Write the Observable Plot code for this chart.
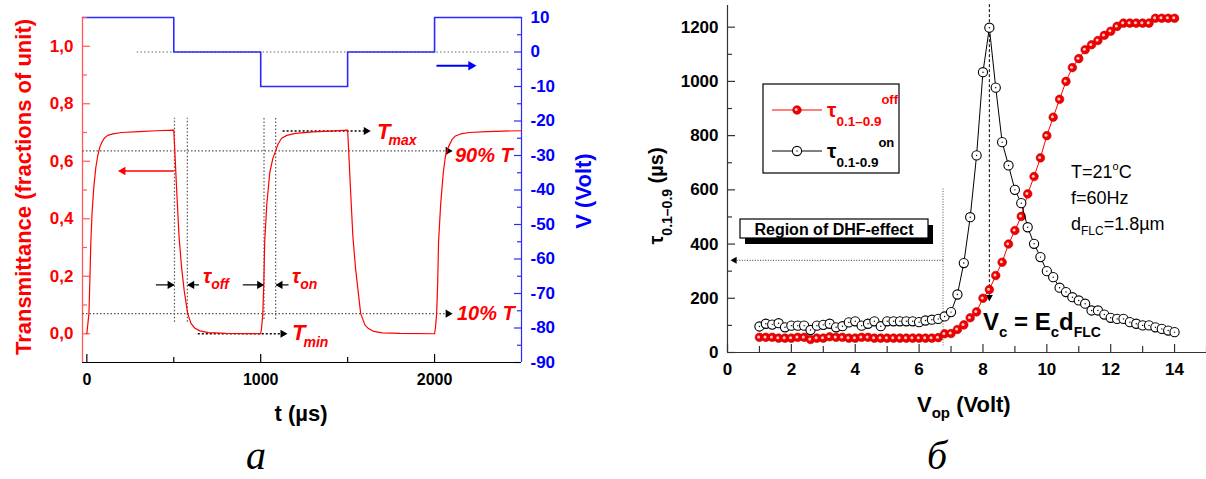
<!DOCTYPE html>
<html><head><meta charset="utf-8">
<script src="https://cdn.jsdelivr.net/npm/d3@7"></script>
<script src="https://cdn.jsdelivr.net/npm/@observablehq/plot@0.6"></script>
<style>
html,body{margin:0;padding:0;background:#fff;}
#fig{position:relative;width:1206px;height:479px;overflow:hidden;background:#fff;}
#fig svg{position:absolute;top:0;}
</style></head><body><div id="fig"></div>
<script>
// ---------- Panel а data ----------
const timeUs = [0,5,12,18,23,30,40,52,63,75,86,100,120,150,200,300,400,500,
  506,515,530,545,560,580,600,620,650,700,800,1000,
  1005,1012,1018,1023,1035,1052,1070,1086,1100,1120,1150,1200,1300,1400,1500,
  1506,1515,1530,1545,1560,1575,1600,1620,1650,1700,1800,2000,
  2005,2012,2018,2023,2035,2050,2063,2080,2100,2120,2150,2200,2300,2400,2500];
const transmittance = [0,0.03,0.07,0.2,0.32,0.42,0.51,0.58,0.62,0.65,0.665,0.68,0.69,0.695,0.7,0.703,0.706,0.708,
  0.636,0.52,0.34,0.23,0.15,0.07,0.035,0.02,0.01,0.004,0.001,0,
  0.02,0.07,0.18,0.32,0.45,0.56,0.61,0.636,0.66,0.68,0.69,0.697,0.702,0.705,0.708,
  0.636,0.52,0.34,0.23,0.15,0.07,0.03,0.018,0.008,0.003,0.001,0,
  0.02,0.07,0.18,0.32,0.45,0.56,0.62,0.65,0.675,0.688,0.695,0.7,0.703,0.705,0.706];
const switchTimeUs = [-25, 500, 1000, 1500, 2000, 2500];
const appliedVolt = [10, 0, -10, 0, 10, 10];
const transTicks = [0, 0.2, 0.4, 0.6, 0.8, 1.0];
const transMinorTicks = [0.1, 0.3, 0.5, 0.7, 0.9, 1.1];
const voltTicks = [10, 0, -10, -20, -30, -40, -50, -60, -70, -80, -90];
const voltMinorTicks = [5, -5, -15, -25, -35, -45, -55, -65, -75, -85];
const timeTicks = [0, 1000, 2000];
const timeMinorTicks = [500, 1500];
const level90 = 0.636, level10 = 0.07, levelMax = 0.705, levelMin = 0;
const edgeMarksUs = [504, 578, 1019, 1086];

// ---------- Panel б data ----------
const vop = [1.0,1.2,1.4,1.6,1.8,2.0,2.2,2.4,2.6,2.8,3.0,3.2,3.4,3.6,3.8,4.0,4.2,4.4,4.6,4.8,5.0,5.2,5.4,5.6,5.8,6.0,6.2,6.4,6.6,
  6.8,7.0,7.2,7.4,7.6,7.8,8.0,8.2,8.4,8.6,8.8,9.0,9.2,9.4,9.6,9.8,10.0,10.2,10.4,10.6,10.8,11.0,11.2,11.4,11.6,11.8,
  12.0,12.2,12.4,12.6,12.8,13.0,13.2,13.4,13.6,13.8,14.0];
const tauOff = [56,56,56,53,53,53,56,56,48,53,53,58,56,56,53,53,56,56,53,53,53,53,53,53,53,53,53,53,55,
  69,70,85,102,128,150,200,232,284,333,400,450,502,585,649,718,800,868,934,1000,1051,1084,1117,1135,1151,1170,
  1185,1203,1215,1215,1215,1215,1215,1233,1233,1233,1233];
const tauOn = [96,106,103,108,93,99,99,99,83,99,102,106,93,97,111,115,99,106,115,97,115,115,115,115,115,112,118,121,124,
  133,149,214,330,499,727,1034,1198,977,776,690,600,551,462,401,352,300,278,239,223,204,192,180,155,155,140,
  128,124,124,112,106,100,100,93,87,81,75];
const vopTicks = [0,2,4,6,8,10,12,14];
const vopMinorTicks = [1,3,5,7,9,11,13,15];
const tauTicks = [0,200,400,600,800,1000,1200];
const tauMinorTicks = [100,300,500,700,900,1100];
const dhfLimit = 6.75, vcVolt = 8.2;

const SANS = '"Liberation Sans", Arial, Helvetica, sans-serif';
const SERIF = '"Liberation Serif", "Times New Roman", serif';
const RED = "#ff0000", BLUE = "#0000ff", BLUE_LINE = "#2a2aff";

function head(pts, dir, color, r = 3) {
  const rot = {right: 90, left: -90, down: 180, up: 0}[dir];
  const o = r * 1.5;
  return Plot.dot(pts, {x: "x", y: "y", symbol: "triangle", r, fill: color, stroke: null, rotate: rot,
    dx: dir === "right" ? -o : dir === "left" ? o : 0, dy: dir === "down" ? -o : dir === "up" ? o : 0});
}
function rich(svg, x, y, parts, o = {}) {
  const t = d3.select(svg).append("text").attr("x", x).attr("y", y)
    .attr("text-anchor", o.anchor || "start").attr("fill", o.fill || "black")
    .attr("font-family", o.family || SANS).attr("font-weight", o.weight || "bold")
    .attr("font-style", o.style || "normal");
  if (o.rotate) t.attr("transform", `rotate(${o.rotate},${x},${y})`);
  let cur = 0;
  for (const p of parts) {
    const s = t.append("tspan").attr("font-size", p.size).text(p.text);
    const sh = p.shift || 0;
    if (sh !== cur) { s.attr("dy", sh - cur); cur = sh; }
    if (p.dx) s.attr("dx", p.dx);
    if (p.fill) s.attr("fill", p.fill);
  }
  return t;
}

const fig = document.getElementById("fig");
const A = {width: 600, height: 479, marginLeft: 82, marginRight: 79, marginTop: 17, marginBottom: 117};
const AW = A.width - A.marginLeft - A.marginRight;   // frame width
const AH = A.height - A.marginTop - A.marginBottom;  // frame height
const tDomain = [-25, 2500];

// ---- Panel а: voltage layer ----
const voltData = switchTimeUs.map((t, i) => ({t, v: appliedVolt[i]}));
const voltLayer = Plot.plot({
  ...A,
  x: {domain: tDomain, axis: null},
  y: {domain: [-90, 10], axis: null},
  style: {background: "white", fontFamily: SANS, overflow: "visible"},
  marks: [
    Plot.link([{x1: 287, x2: 2437, y: 0}], {x1: "x1", x2: "x2", y1: "y", y2: "y", stroke: "#666", strokeDasharray: "1.5,2.2", strokeWidth: 1.2}),
    Plot.line(voltData, {x: "t", y: "v", curve: "step-after", stroke: BLUE_LINE, strokeWidth: 1.6}),
    Plot.ruleX([2500], {stroke: BLUE_LINE, strokeWidth: 1.2}),
    Plot.axisY({anchor: "right", ticks: voltTicks, tickSize: 0, tickPadding: 9, tickFormat: d => String(d), fill: BLUE, fontSize: 17, fontWeight: "bold", label: null}),
    Plot.ruleY(voltTicks, {insetLeft: AW - 7, stroke: BLUE_LINE, strokeWidth: 1.2}),
    Plot.ruleY(voltMinorTicks, {insetLeft: AW - 4, stroke: BLUE_LINE, strokeWidth: 1.2}),
    Plot.link([{x1: 2011, x2: 2225, y: -4}], {x1: "x1", x2: "x2", y1: "y", y2: "y", stroke: BLUE, strokeWidth: 2}),
    head([{x: 2240, y: -4}], "right", BLUE, 3.5)
  ]
});
voltLayer.style.left = "0px";
fig.appendChild(voltLayer);

// ---- Panel а: transmittance layer ----
const transData = timeUs.map((t, i) => ({t, T: transmittance[i]}));
const dotted = {stroke: "#555", strokeDasharray: "1.5,2", strokeWidth: 1.2};
const blackDotted = {stroke: "#000", strokeDasharray: "2,2", strokeWidth: 1.5};
const transLayer = Plot.plot({
  ...A,
  x: {domain: tDomain},
  y: {domain: [-0.1, 1.1]},
  style: {background: "transparent", fontFamily: SANS, overflow: "visible"},
  marks: [
    Plot.ruleX([-25], {stroke: "#ff5a5a", strokeWidth: 1.3}),
    Plot.ruleY([-0.1], {stroke: "#000", strokeWidth: 1.2}),
    Plot.axisY({anchor: "left", ticks: transTicks, tickSize: 0, tickPadding: 9, tickFormat: d => d.toFixed(1).replace(".", ","), fill: RED, fontSize: 17, fontWeight: "bold", label: null}),
    Plot.ruleY(transTicks, {insetRight: AW - 8, stroke: "#ff5a5a", strokeWidth: 1.2}),
    Plot.ruleY(transMinorTicks, {insetRight: AW - 5, stroke: "#ff5a5a", strokeWidth: 1.2}),
    Plot.axisX({anchor: "bottom", ticks: timeTicks, tickSize: 0, tickPadding: 11, tickFormat: d => String(d), fill: "#000", fontSize: 16, fontWeight: "bold", label: null}),
    Plot.ruleX(timeTicks, {insetTop: AH - 8, stroke: "#000", strokeWidth: 1.2}),
    Plot.ruleX(timeMinorTicks, {insetTop: AH - 5, stroke: "#000", strokeWidth: 1.2}),
    Plot.ruleX(edgeMarksUs, {y1: (d, i) => (i < 2 ? 0.04 : 0.05), y2: 0.75, ...dotted}),
    Plot.link([{x1: -25, x2: 2095, y: level90}, {x1: -25, x2: 2095, y: level10}], {x1: "x1", x2: "x2", y1: "y", y2: "y", ...dotted}),
    head([{x: 2103, y: level90}, {x: 2103, y: level10}], "right", "#000", 3),
    Plot.link([{x1: 1126, x2: 1625, y: levelMax}, {x1: 638, x2: 1145, y: levelMin}], {x1: "x1", x2: "x2", y1: "y", y2: "y", ...blackDotted}),
    head([{x: 1632, y: levelMax}, {x: 1153, y: levelMin}], "right", "#000", 3),
    Plot.line(transData, {x: "t", y: "T", stroke: RED, strokeWidth: 1.2}),
    Plot.link([{x1: 500, x2: 190, y: 0.566}], {x1: "x1", x2: "x2", y1: "y", y2: "y", stroke: RED, strokeWidth: 1.5}),
    head([{x: 180, y: 0.566}], "left", RED, 3.2),
    Plot.link([{x1: 397, x2: 500, y: 0.17}, {x1: 897, x2: 1012, y: 0.17}], {x1: "x1", x2: "x2", y1: "y", y2: "y", stroke: "#000", strokeWidth: 1.2}),
    head([{x: 504, y: 0.17}, {x: 1019, y: 0.17}], "right", "#000", 3),
    Plot.link([{x1: 645, x2: 582, y: 0.17}, {x1: 1160, x2: 1090, y: 0.17}], {x1: "x1", x2: "x2", y1: "y", y2: "y", stroke: "#000", strokeWidth: 1.2}),
    head([{x: 578, y: 0.17}, {x: 1086, y: 0.17}], "left", "#000", 3)
  ]
});
transLayer.style.left = "0px";
fig.appendChild(transLayer);

rich(transLayer, 31, 187, [{text: "Transmittance (fractions of unit)", size: 22}], {anchor: "middle", rotate: -90, fill: RED});
rich(transLayer, 591, 191, [{text: "V (Volt)", size: 22}], {anchor: "middle", rotate: -90, fill: BLUE});
rich(transLayer, 301, 421, [{text: "t (µs)", size: 22}], {anchor: "middle"});
rich(transLayer, 256, 469, [{text: "а", size: 40}], {anchor: "middle", family: SERIF, weight: "normal", style: "italic"});
rich(transLayer, 377, 139, [{text: "T", size: 22}, {text: "max", size: 14, shift: 6, dx: -2}], {fill: RED, style: "italic"});
rich(transLayer, 455, 162, [{text: "90% T", size: 20}], {fill: RED, style: "italic"});
rich(transLayer, 457, 320, [{text: "10% T", size: 20}], {fill: RED, style: "italic"});
rich(transLayer, 292, 340, [{text: "T", size: 22}, {text: "min", size: 14, shift: 7, dx: -2}], {fill: RED, style: "italic"});
rich(transLayer, 203, 283, [{text: "τ", size: 20}, {text: "off", size: 14, shift: 6}], {fill: RED, style: "italic"});
rich(transLayer, 292, 283, [{text: "τ", size: 20}, {text: "on", size: 14, shift: 6}], {fill: RED, style: "italic"});

// ---- Panel б ----
const B = {width: 606, height: 479, marginLeft: 127, marginRight: 0, marginTop: 5, marginBottom: 127};
const BW = B.width - B.marginLeft - B.marginRight;
const BH = B.height - B.marginTop - B.marginBottom;
const offData = vop.map((v, i) => ({v, tau: tauOff[i]}));
const onData = vop.map((v, i) => ({v, tau: tauOn[i]}));
const panelB = Plot.plot({
  ...B,
  x: {domain: [0, 15]},
  y: {domain: [0, 1280]},
  style: {background: "white", fontFamily: SANS, overflow: "visible"},
  marks: [
    Plot.ruleX([0], {stroke: "#333", strokeWidth: 1.2}),
    Plot.ruleY([0], {stroke: "#333", strokeWidth: 1.2}),
    Plot.axisY({anchor: "left", ticks: tauTicks, tickSize: 0, tickPadding: 9, tickFormat: d => String(d), fill: "#000", fontSize: 17, fontWeight: "bold", label: null}),
    Plot.ruleY(tauTicks, {insetRight: BW - 8, stroke: "#333", strokeWidth: 1.2}),
    Plot.ruleY(tauMinorTicks, {insetRight: BW - 5, stroke: "#333", strokeWidth: 1.2}),
    Plot.axisX({anchor: "bottom", ticks: vopTicks, tickSize: 0, tickPadding: 10, tickFormat: d => String(d), fill: "#000", fontSize: 17, fontWeight: "bold", label: null}),
    Plot.ruleX(vopTicks, {insetTop: BH - 8, stroke: "#333", strokeWidth: 1.2}),
    Plot.ruleX(vopMinorTicks, {insetTop: BH - 6, stroke: "#333", strokeWidth: 1.2}),
    Plot.link([{x: dhfLimit, y1: 26, y2: 605}], {x1: "x", x2: "x", y1: "y1", y2: "y2", stroke: "#555", strokeDasharray: "1,1.6", strokeWidth: 1}),
    Plot.link([{x1: dhfLimit, x2: 0.25, y: 340}], {x1: "x1", x2: "x2", y1: "y", y2: "y", stroke: "#333", strokeDasharray: "1,1.6", strokeWidth: 1}),
    head([{x: 0.1, y: 340}], "left", "#000", 2.6),
    Plot.link([{x: vcVolt, y1: 1285, y2: 205}], {x1: "x", x2: "x", y1: "y1", y2: "y2", stroke: "#000", strokeDasharray: "3,2", strokeWidth: 1}),
    head([{x: vcVolt, y: 190}], "down", "#000", 2.6),
    Plot.line(offData, {x: "v", y: "tau", stroke: RED, strokeWidth: 1}),
    Plot.dot(offData, {x: "v", y: "tau", r: 4.3, fill: "#f20000", stroke: "#c00000", strokeWidth: 0.6}),
    Plot.dot(offData, {x: "v", y: "tau", r: 1.5, fill: "#ffc8c8", stroke: null, dx: -0.8, dy: -0.4}),
    Plot.line(onData, {x: "v", y: "tau", stroke: "#000", strokeWidth: 1}),
    Plot.dot(onData, {x: "v", y: "tau", r: 4.6, fill: "white", stroke: "#000", strokeWidth: 1.1}),
    Plot.dot(onData, {x: "v", y: "tau", r: 0.7, fill: "#000", stroke: null})
  ]
});
panelB.style.left = "600px";
fig.appendChild(panelB);

const gB = d3.select(panelB);
// Region of DHF-effect box
gB.append("rect").attr("x", 145).attr("y", 225).attr("width", 188).attr("height", 19).attr("fill", "#000");
gB.append("rect").attr("x", 140).attr("y", 219).attr("width", 188).attr("height", 19).attr("fill", "#fff").attr("stroke", "#000").attr("stroke-width", 1.2);
rich(panelB, 234, 235, [{text: "Region of DHF-effect", size: 16}], {anchor: "middle"});
// Legend
gB.append("rect").attr("x", 163).attr("y", 84).attr("width", 136).attr("height", 89).attr("fill", "#fff").attr("stroke", "#000").attr("stroke-width", 1.2);
gB.append("line").attr("x1", 172).attr("x2", 222).attr("y1", 110).attr("y2", 110).attr("stroke", RED).attr("stroke-width", 1);
gB.append("circle").attr("cx", 197).attr("cy", 110).attr("r", 4.3).attr("fill", "#f20000").attr("stroke", "#c00000").attr("stroke-width", 0.6);
gB.append("circle").attr("cx", 196.2).attr("cy", 109.6).attr("r", 1.5).attr("fill", "#ffc8c8");
gB.append("line").attr("x1", 172).attr("x2", 222).attr("y1", 151).attr("y2", 151).attr("stroke", "#000").attr("stroke-width", 1);
gB.append("circle").attr("cx", 197).attr("cy", 151).attr("r", 4.6).attr("fill", "#fff").attr("stroke", "#000").attr("stroke-width", 1.1);
gB.append("circle").attr("cx", 197).attr("cy", 151).attr("r", 0.7).attr("fill", "#000");
rich(panelB, 227, 117, [{text: "τ", size: 21}, {text: "0.1–0.9", size: 13.5, shift: 9}, {text: "off", size: 13, shift: -13}], {fill: RED});
rich(panelB, 227, 158, [{text: "τ", size: 21}, {text: "0.1-0.9", size: 13.5, shift: 9}, {text: "on", size: 13, shift: -11}], {fill: "#000"});
// Conditions
rich(panelB, 471, 178, [{text: "T=21", size: 18}, {text: "o", size: 11, shift: -8}, {text: "C", size: 18, shift: 0}], {weight: "normal"});
rich(panelB, 471, 204, [{text: "f=60Hz", size: 18}], {weight: "normal"});
rich(panelB, 471, 230, [{text: "d", size: 18}, {text: "FLC", size: 12, shift: 5}, {text: "=1.8µm", size: 18, shift: 0}], {weight: "normal"});
rich(panelB, 383, 330, [{text: "V", size: 24}, {text: "c", size: 15, shift: 7}, {text: " = E", size: 24, shift: 0}, {text: "c", size: 15, shift: 7}, {text: "d", size: 24, shift: 0}, {text: "FLC", size: 14, shift: 7}]);
// Axis titles
rich(panelB, 63, 196, [{text: "τ", size: 20}, {text: "0.1–0.9", size: 14, shift: 9}, {text: " (µs)", size: 20, shift: 0}], {anchor: "middle", rotate: -90});
rich(panelB, 317, 412, [{text: "V", size: 22}, {text: "op", size: 15, shift: 6}, {text: " (Volt)", size: 22, shift: 0}]);
rich(panelB, 337, 469, [{text: "б", size: 40}], {anchor: "middle", family: SERIF, weight: "normal", style: "italic"});
</script></body></html>
